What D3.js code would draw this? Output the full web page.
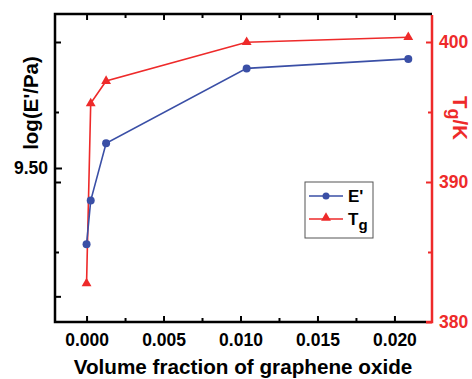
<!DOCTYPE html>
<html>
<head>
<meta charset="utf-8">
<script src="https://cdn.jsdelivr.net/npm/d3@7"></script>
<style>
  html, body { margin: 0; padding: 0; background: #fff; }
  text { font-family: "Liberation Sans", Arial, sans-serif; font-weight: bold; }
</style>
</head>
<body>
<div id="chart"></div>
<script>
// data
const fractions = [0.0, 0.00027, 0.00127, 0.0104, 0.0209];
const logE = [9.4703, 9.4873, 9.5096, 9.5388, 9.5425];
const tg = [382.76, 395.62, 397.21, 399.98, 400.34];

const xMajor = [0.000, 0.005, 0.010, 0.015, 0.020];
const xMinor = [0.0025, 0.0075, 0.0125, 0.0175];
const eMajor = [9.50];
const eMinor = [9.45];
const tgMajor = [380, 390, 400];
const tgMinor = [385, 395];

const blue = '#3a4fa6', red = '#ee2a2a';
const width = 472, height = 379;
const pLeft = 55, pRight = 432, pTop = 14, pBottom = 322;

const svg = d3.select('#chart').append('svg')
  .attr('width', width).attr('height', height);

const x = d3.scaleLinear().domain([-0.00205, 0.02244]).range([pLeft, pRight]);
const yE = d3.scaleLinear().domain([9.44, 9.56]).range([pBottom, pTop]);
const yT = d3.scaleLinear().domain([380, 402]).range([pBottom, pTop]);

// bottom axis (ticks inward)
svg.append('g')
  .attr('transform', `translate(0,${pBottom})`)
  .call(d3.axisBottom(x).tickValues(xMajor).tickSize(-6).tickFormat(d3.format('.3f')).tickPadding(12))
  .call(g => g.select('.domain').remove())
  .call(g => g.selectAll('line').attr('stroke-width', 2))
  .call(g => g.selectAll('text').attr('font-size', 17.5).attr('fill', '#000'));
svg.append('g')
  .attr('transform', `translate(0,${pBottom})`)
  .call(d3.axisBottom(x).tickValues(xMinor).tickSize(-4).tickFormat(''))
  .call(g => g.select('.domain').remove())
  .call(g => g.selectAll('line').attr('stroke-width', 2));

// top axis (mirror, no labels)
svg.append('g')
  .attr('transform', `translate(0,${pTop})`)
  .call(d3.axisTop(x).tickValues(xMajor).tickSize(-6).tickFormat(''))
  .call(g => g.select('.domain').remove())
  .call(g => g.selectAll('line').attr('stroke-width', 2));
svg.append('g')
  .attr('transform', `translate(0,${pTop})`)
  .call(d3.axisTop(x).tickValues(xMinor).tickSize(-4).tickFormat(''))
  .call(g => g.select('.domain').remove())
  .call(g => g.selectAll('line').attr('stroke-width', 2));

// left axis: E' ticks plus the mirrored Tg ticks
svg.append('g')
  .attr('transform', `translate(${pLeft},0)`)
  .call(d3.axisLeft(yE).tickValues(eMajor).tickSize(-7).tickFormat(d3.format('.2f')).tickPadding(7))
  .call(g => g.select('.domain').remove())
  .call(g => g.selectAll('line').attr('stroke-width', 2))
  .call(g => g.selectAll('text').attr('font-size', 17.5).attr('fill', '#000'));
svg.append('g')
  .attr('transform', `translate(${pLeft},0)`)
  .call(d3.axisLeft(yE).tickValues(eMinor).tickSize(-6).tickFormat(''))
  .call(g => g.select('.domain').remove())
  .call(g => g.selectAll('line').attr('stroke-width', 2));
svg.append('g')
  .attr('transform', `translate(${pLeft},0)`)
  .call(d3.axisLeft(yT).tickValues(tgMajor.filter(d => d > 380)).tickSize(-6).tickFormat(''))
  .call(g => g.select('.domain').remove())
  .call(g => g.selectAll('line').attr('stroke-width', 2));
svg.append('g')
  .attr('transform', `translate(${pLeft},0)`)
  .call(d3.axisLeft(yT).tickValues(tgMinor).tickSize(-4).tickFormat(''))
  .call(g => g.select('.domain').remove())
  .call(g => g.selectAll('line').attr('stroke-width', 2));

// right axis, red
svg.append('g')
  .attr('transform', `translate(${pRight},0)`)
  .call(d3.axisRight(yT).tickValues(tgMajor).tickSize(-6).tickPadding(7))
  .call(g => g.select('.domain').remove())
  .call(g => g.selectAll('line').attr('stroke', red).attr('stroke-width', 2))
  .call(g => g.selectAll('text').attr('font-size', 17.5).attr('fill', red));
svg.append('g')
  .attr('transform', `translate(${pRight},0)`)
  .call(d3.axisRight(yT).tickValues(tgMinor).tickSize(-4).tickFormat(''))
  .call(g => g.select('.domain').remove())
  .call(g => g.selectAll('line').attr('stroke', red).attr('stroke-width', 2));

// frame
svg.append('path')
  .attr('d', `M${pRight},${pTop} H${pLeft} V${pBottom} H${pRight - 6}`)
  .attr('fill', 'none').attr('stroke', '#000').attr('stroke-width', 2.5);
svg.append('path')
  .attr('d', `M${pRight - 6},${pBottom} H${pRight} V${pTop + 1}`)
  .attr('fill', 'none').attr('stroke', red).attr('stroke-width', 2.5);

// series
const eData = fractions.map((f, i) => ({ x: f, y: logE[i] }));
const tData = fractions.map((f, i) => ({ x: f, y: tg[i] }));

const tri = d3.symbol().type(d3.symbolTriangle).size(42);

svg.append('path').datum(tData)
  .attr('d', d3.line().x(d => x(d.x)).y(d => yT(d.y)))
  .attr('fill', 'none').attr('stroke', red).attr('stroke-width', 1.6);
svg.append('path').datum(eData)
  .attr('d', d3.line().x(d => x(d.x)).y(d => yE(d.y)))
  .attr('fill', 'none').attr('stroke', blue).attr('stroke-width', 1.6);

svg.selectAll('.tri').data(tData).join('path')
  .attr('transform', d => `translate(${x(d.x)},${yT(d.y)})`)
  .attr('d', tri).attr('fill', red);
svg.selectAll('.dot').data(eData).join('circle')
  .attr('cx', d => x(d.x)).attr('cy', d => yE(d.y))
  .attr('r', 4).attr('fill', blue);

// legend
const lg = svg.append('g').attr('transform', 'translate(305,182)');
lg.append('rect').attr('width', 68).attr('height', 56)
  .attr('fill', '#fff').attr('stroke', '#555').attr('stroke-width', 1);
lg.append('line').attr('x1', 4).attr('x2', 38).attr('y1', 14).attr('y2', 14)
  .attr('stroke', blue).attr('stroke-width', 1.6);
lg.append('circle').attr('cx', 21).attr('cy', 14).attr('r', 3.5).attr('fill', blue);
lg.append('text').attr('x', 43).attr('y', 20).attr('font-size', 17).text("E'");
lg.append('line').attr('x1', 4).attr('x2', 38).attr('y1', 37).attr('y2', 37)
  .attr('stroke', red).attr('stroke-width', 1.6);
lg.append('path').attr('transform', 'translate(21,36)').attr('d', tri).attr('fill', red);
const tgText = lg.append('text').attr('x', 43).attr('y', 43).attr('font-size', 17);
tgText.append('tspan').text('T');
tgText.append('tspan').attr('dy', 5).attr('font-size', 15).text('g');

// axis titles
svg.append('text')
  .attr('x', 243).attr('y', 374).attr('text-anchor', 'middle')
  .attr('font-size', 20.7).text('Volume fraction of graphene oxide');

svg.append('text')
  .attr('transform', 'translate(38,103) rotate(-90)')
  .attr('text-anchor', 'middle').attr('font-size', 20.5)
  .text("log(E'/Pa)");

const tl = svg.append('text')
  .attr('transform', 'translate(453,118) rotate(90)')
  .attr('text-anchor', 'middle').attr('font-size', 20.5).attr('fill', red);
tl.append('tspan').text('T');
tl.append('tspan').attr('dy', 5).attr('font-size', 18).text('g');
tl.append('tspan').attr('dy', -5).text('/K');
</script>
</body>
</html>
